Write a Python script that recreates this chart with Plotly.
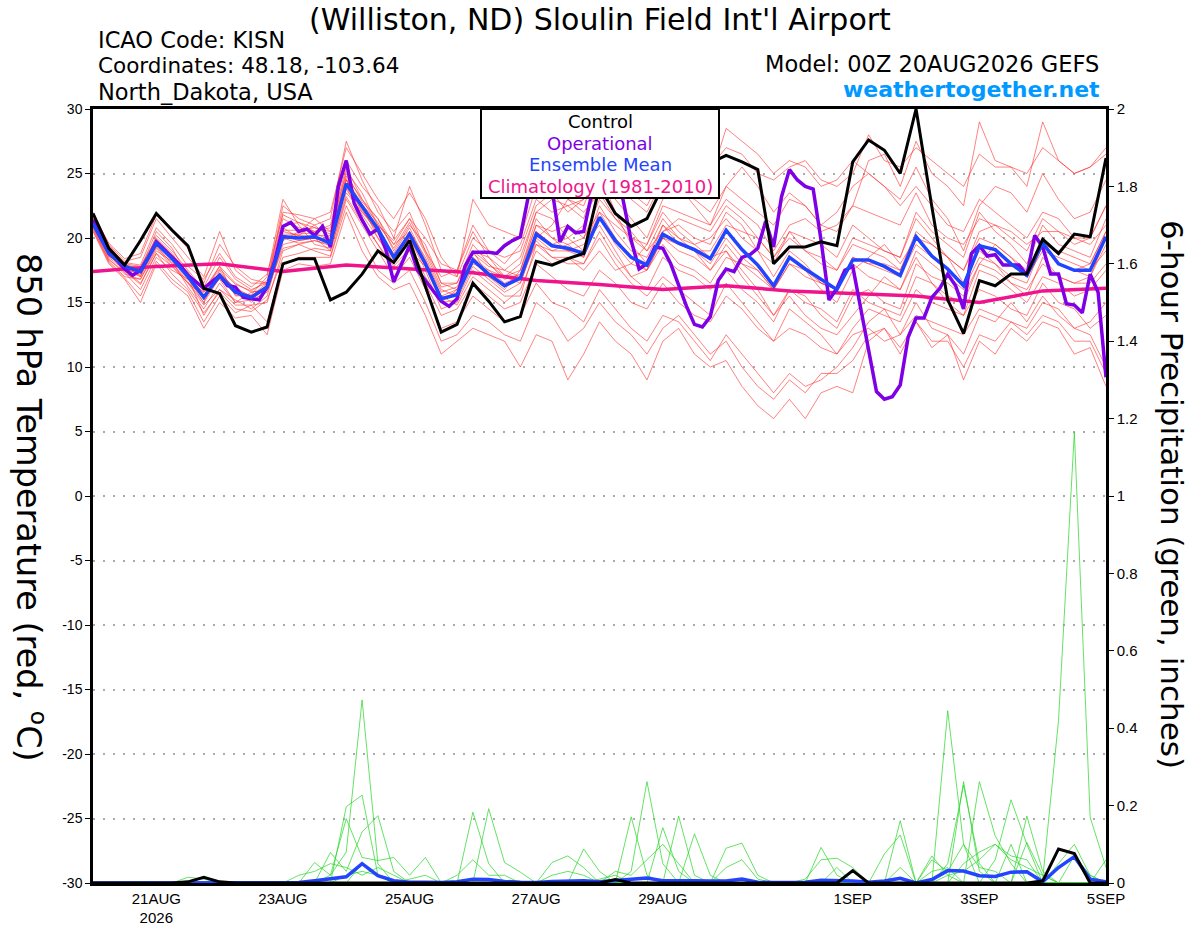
import pandas as pd
import plotly.graph_objects as go

# ---------------- data ----------------
start_time = "2026-08-20 00:00"

temp_ticks = [-30, -25, -20, -15, -10, -5, 0, 5, 10, 15, 20, 25, 30]
temp_tick_labels = ["-30", "-25", "-20", "-15", "-10", "-5", "0", "5", "10", "15", "20", "25", "30"]
precip_ticks = [0, 0.2, 0.4, 0.6, 0.8, 1.0, 1.2, 1.4, 1.6, 1.8, 2.0]
precip_tick_labels = ["0", "0.2", "0.4", "0.6", "0.8", "1", "1.2", "1.4", "1.6", "1.8", "2"]
date_ticks = ["2026-08-21", "2026-08-23", "2026-08-25", "2026-08-27",
              "2026-08-29", "2026-09-01", "2026-09-03", "2026-09-05"]
date_tick_labels = ["21AUG<br>2026", "23AUG", "25AUG", "27AUG", "29AUG", "1SEP", "3SEP", "5SEP"]

# 6-hourly control (black)
control_t = [21.9, 19.2, 17.9, 19.8, 21.9, 20.6, 19.4, 16.1, 15.7, 13.2, 12.7, 13.1, 18.0, 18.4, 18.4, 15.2,
             15.8, 17.2, 19.0, 18.1, 19.8, 16.3, 12.7, 13.3, 16.5, 15.1, 13.5, 13.9, 18.2, 17.9, 18.4, 18.8,
             24.0, 21.9, 20.9, 21.5, 24.0, 25.0, 25.5, 25.8, 26.4, 25.9, 25.3, 18.0, 19.3, 19.3, 19.7, 19.4,
             25.9, 27.6, 26.8, 25.0, 30.0, 22.4, 15.2, 12.6, 16.7, 16.3, 17.2, 17.2, 19.9, 18.8, 20.3, 20.1, 26.2]

# 6-hourly ensemble mean (blue)
mean_t = [21.1, 18.8, 17.8, 17.4, 19.6, 18.4, 17.0, 15.4, 17.1, 15.8, 15.4, 16.2, 20.1, 20.0, 20.1, 19.6,
          24.2, 22.4, 20.7, 18.5, 20.3, 18.0, 15.3, 15.6, 18.3, 17.2, 16.3, 16.9, 20.3, 19.4, 19.2, 18.8,
          21.6, 19.8, 18.5, 17.9, 20.3, 19.6, 19.1, 18.4, 20.6, 19.1, 17.9, 16.3, 18.5, 17.6, 16.8, 16.0,
          18.3, 18.3, 17.8, 17.1, 20.1, 18.6, 17.6, 16.3, 19.4, 19.1, 18.0, 17.1, 19.6, 18.0, 17.5, 17.5, 20.1]

# 3-hourly operational (purple)
oper_t = [21.4, 20.1, 18.9, 18.3, 17.6, 17.1, 17.5, 18.5, 19.7, 19.1, 18.5, 17.9, 17.1, 16.6, 16.1, 16.6,
          17.1, 16.3, 16.2, 15.4, 15.3, 15.2, 16.2, 18.3, 20.9, 21.2, 20.5, 20.7, 20.2, 20.9, 19.3, 24.0, 26.0,
          22.7, 21.4, 20.3, 20.7, 19.1, 16.6, 18.0, 19.4, 17.5, 16.7, 15.8, 15.1, 14.7, 15.3, 17.8, 18.9,
          18.9, 18.9, 18.8, 19.4, 19.8, 20.1, 23.2, 25.5, 25.0, 23.8, 19.7, 20.9, 20.4, 20.5, 23.4, 25.5,
          26.0, 25.0, 22.9, 19.8, 17.6, 18.0, 19.3, 19.2, 18.0, 16.3, 14.7, 13.3, 13.1, 13.9, 16.7, 17.6,
          17.4, 18.5, 18.7, 19.2, 21.3, 19.3, 23.2, 25.3, 24.5, 24.0, 23.8, 19.8, 15.2, 16.1, 17.5, 17.8,
          14.6, 11.3, 8.1, 7.5, 7.7, 8.6, 12.3, 13.8, 13.8, 15.4, 16.1, 17.2, 16.3, 14.5, 18.8, 19.4,
          18.6, 18.7, 17.9, 17.9, 17.9, 17.1, 20.2, 19.3, 17.2, 17.2, 14.9, 14.8, 14.2, 17.2, 15.8, 9.2]

# daily climatology (pink)
clim_t = [17.4, 17.8, 18.0, 17.4, 17.9, 17.6, 17.3, 16.7, 16.4, 16.0, 16.3, 15.9, 15.7, 15.5, 15.0, 15.9, 16.1]

# ensemble members, 6-hourly (red)
m01 = [21.5, 19.2, 18.0, 17.0, 20.2, 19.0, 17.5, 16.0, 17.8, 16.5, 15.8, 16.0, 21.0, 21.2, 20.5, 20.8,
       25.5, 23.0, 21.5, 19.0, 21.0, 19.5, 16.5, 16.0, 19.0, 18.5, 17.0, 18.0, 22.0, 21.5, 20.0, 21.0,
       24.5, 23.0, 21.5, 20.0, 23.0, 24.0, 22.5, 21.0, 24.0, 25.5, 24.0, 22.0, 23.5, 22.5, 21.0, 22.0,
       24.0, 25.0, 24.0, 23.0, 25.5, 23.0, 21.5, 19.0, 22.5, 24.0, 23.5, 22.0, 25.0, 23.0, 21.5, 22.0, 24.5]
m02 = [21.0, 18.5, 17.5, 16.5, 18.8, 17.8, 16.5, 14.8, 16.0, 14.8, 14.8, 15.0, 19.0, 19.5, 19.0, 18.6,
       23.0, 21.0, 19.0, 17.0, 18.5, 16.0, 13.0, 13.5, 15.5, 14.5, 13.5, 14.0, 16.5, 15.0, 14.5, 13.5,
       16.0, 14.5, 13.0, 12.0, 14.0, 13.5, 12.0, 10.5, 12.5, 11.0, 9.5, 8.0, 9.5, 8.5, 9.0, 10.0,
       11.5, 13.5, 14.5, 12.5, 15.0, 13.0, 12.5, 11.0, 14.0, 13.5, 15.0, 13.5, 15.5, 14.0, 13.0, 12.5, 10.0]
m03 = [22.0, 19.5, 18.2, 18.5, 21.5, 20.0, 18.5, 17.0, 20.5, 17.5, 16.5, 16.5, 22.5, 21.5, 21.0, 21.5,
       27.5, 24.5, 22.0, 20.5, 22.0, 19.0, 17.0, 17.5, 21.0, 19.0, 18.0, 19.5, 23.0, 22.0, 22.5, 21.5,
       25.0, 22.0, 19.5, 18.0, 21.0, 20.0, 19.0, 17.5, 19.0, 17.0, 15.5, 14.0, 16.0, 15.5, 14.0, 13.0,
       15.5, 16.0, 15.0, 14.5, 18.0, 17.0, 16.5, 15.5, 18.0, 19.5, 18.5, 17.0, 19.0, 18.5, 18.0, 17.5, 19.0]
m04 = [20.8, 18.2, 17.0, 16.8, 19.0, 18.2, 16.2, 14.5, 16.5, 15.0, 15.2, 15.8, 19.5, 19.8, 20.0, 19.0,
       23.5, 22.0, 20.5, 18.0, 20.0, 17.5, 14.5, 15.0, 17.5, 16.5, 15.5, 15.5, 19.5, 19.0, 19.5, 18.5,
       21.5, 20.0, 18.5, 18.0, 20.5, 21.0, 20.0, 19.5, 22.0, 21.0, 19.0, 18.0, 20.5, 20.0, 19.5, 18.5,
       21.0, 20.0, 19.0, 18.5, 21.5, 20.0, 18.5, 17.5, 20.5, 21.0, 20.0, 19.0, 21.5, 20.5, 19.5, 20.0, 22.5]
m05 = [21.3, 19.0, 17.3, 16.0, 18.5, 17.5, 16.8, 15.8, 17.2, 16.0, 15.5, 16.5, 20.5, 20.2, 21.0, 20.0,
       24.5, 22.5, 20.0, 18.5, 19.5, 17.0, 15.0, 16.0, 18.0, 17.5, 17.0, 16.5, 20.0, 21.0, 23.0, 22.0,
       23.5, 21.5, 20.0, 19.0, 21.5, 20.0, 19.5, 18.5, 19.0, 17.5, 16.0, 14.0, 15.5, 14.0, 13.0, 12.5,
       14.0, 15.5, 17.0, 16.0, 18.5, 16.5, 15.0, 14.0, 16.0, 15.5, 14.5, 14.0, 16.5, 15.0, 14.5, 13.0, 14.0]
m06 = [21.6, 19.4, 18.0, 17.8, 20.0, 18.8, 17.2, 16.2, 18.5, 16.8, 16.0, 16.5, 21.5, 20.8, 20.5, 21.0,
       26.0, 24.0, 22.5, 20.0, 24.0, 21.0, 17.5, 17.0, 20.0, 19.0, 18.5, 19.0, 22.5, 23.5, 22.0, 23.0,
       26.5, 25.0, 24.5, 23.0, 25.0, 26.0, 25.0, 24.5, 28.5, 27.5, 26.5, 25.0, 26.0, 25.5, 24.0, 24.5,
       26.0, 25.0, 24.0, 22.5, 24.0, 22.5, 21.0, 20.5, 23.0, 22.0, 21.0, 20.0, 22.0, 21.5, 20.0, 19.5, 21.0]
m07 = [20.5, 18.0, 16.8, 15.0, 18.0, 16.5, 15.5, 13.0, 15.0, 13.8, 14.0, 12.5, 17.5, 18.0, 17.8, 18.0,
       22.0, 19.0, 17.0, 16.0, 16.5, 14.0, 11.0, 12.0, 13.0, 12.5, 12.0, 10.0, 12.5, 12.0, 9.0, 11.0,
       13.5, 12.0, 11.0, 9.0, 12.0, 13.0, 11.0, 10.0, 10.5, 8.5, 7.0, 6.0, 7.5, 6.0, 8.0, 8.5,
       8.0, 12.0, 13.0, 11.0, 13.5, 11.5, 12.5, 9.0, 12.0, 11.0, 13.0, 12.0, 13.5, 13.0, 11.0, 11.5, 8.5]
m08 = [21.2, 18.7, 17.8, 17.5, 19.8, 18.5, 17.4, 15.2, 17.0, 16.2, 15.0, 16.0, 20.8, 20.0, 20.2, 20.2,
       24.8, 23.0, 21.0, 19.5, 20.5, 18.5, 16.0, 15.5, 19.0, 17.0, 16.0, 17.5, 21.5, 20.0, 19.0, 19.5,
       21.0, 19.0, 17.0, 17.5, 19.5, 18.0, 17.5, 16.5, 18.5, 18.0, 17.0, 16.0, 18.0, 17.5, 16.0, 15.0,
       17.5, 18.5, 19.5, 18.0, 20.0, 19.5, 18.5, 16.5, 19.0, 18.0, 16.5, 15.5, 18.5, 17.0, 16.5, 17.0, 20.0]
m09 = [21.0, 18.8, 17.6, 17.2, 19.4, 18.0, 16.8, 15.8, 17.8, 15.5, 15.6, 17.0, 23.0, 21.0, 19.5, 19.2,
       24.0, 21.5, 19.5, 17.5, 19.0, 17.8, 15.5, 14.8, 17.0, 16.0, 15.0, 16.0, 19.0, 18.0, 18.5, 17.5,
       19.0, 17.5, 18.0, 19.5, 22.0, 20.5, 19.5, 20.0, 21.5, 20.0, 19.0, 17.0, 19.0, 18.0, 16.5, 16.0,
       18.0, 17.0, 16.5, 16.0, 19.0, 18.0, 17.0, 16.0, 18.5, 18.0, 17.0, 16.5, 19.5, 18.0, 17.5, 18.0, 20.5]
m10 = [21.4, 19.1, 17.9, 17.6, 20.5, 19.2, 17.0, 14.0, 16.0, 15.2, 14.5, 15.5, 19.8, 20.5, 21.5, 20.5,
       25.0, 22.8, 21.5, 19.5, 21.5, 20.0, 18.0, 17.5, 20.5, 18.5, 17.5, 17.0, 20.5, 19.5, 19.0, 19.0,
       22.5, 20.5, 19.0, 18.5, 21.0, 19.5, 19.0, 19.0, 21.0, 20.5, 20.0, 18.5, 20.5, 19.0, 18.0, 17.5,
       20.0, 19.5, 19.0, 18.5, 22.0, 20.5, 19.5, 18.5, 22.0, 20.5, 19.5, 18.0, 21.0, 19.5, 19.0, 18.5, 21.5]
m11 = [20.9, 18.4, 17.2, 16.8, 19.2, 17.8, 16.5, 15.5, 16.8, 15.0, 15.8, 16.0, 19.2, 19.5, 19.8, 19.5,
       23.8, 21.8, 20.0, 18.0, 20.5, 18.0, 15.5, 16.0, 18.5, 17.5, 16.5, 17.0, 19.5, 18.5, 18.0, 18.0,
       20.0, 18.0, 16.5, 15.5, 17.0, 16.0, 15.0, 14.0, 16.5, 15.0, 13.5, 12.0, 14.5, 13.5, 12.5, 11.0,
       13.0, 14.5, 14.0, 13.5, 16.0, 15.0, 14.5, 14.0, 17.5, 17.0, 16.0, 15.0, 17.0, 16.5, 15.5, 16.0, 17.5]
m12 = [21.5, 19.3, 18.1, 17.9, 20.8, 19.5, 17.8, 16.8, 18.8, 17.0, 16.2, 17.2, 21.8, 21.2, 20.8, 20.5,
       25.2, 23.5, 21.0, 19.8, 21.5, 19.0, 16.5, 16.5, 19.0, 18.0, 17.0, 17.5, 21.0, 20.0, 19.5, 20.0,
       22.0, 21.0, 20.0, 19.5, 22.5, 22.0, 21.5, 21.0, 23.0, 22.0, 21.0, 19.0, 21.0, 21.5, 20.5, 21.0,
       22.5, 26.0, 26.5, 24.0, 27.5, 25.0, 24.0, 22.5, 29.0, 26.0, 25.5, 24.0, 29.0, 26.0, 25.0, 25.5, 27.0]
m13 = [21.1, 18.6, 17.7, 17.3, 19.6, 18.6, 16.9, 15.0, 17.5, 15.8, 15.2, 16.4, 20.2, 19.8, 20.0, 19.6,
       24.2, 22.0, 20.8, 18.5, 20.0, 18.2, 15.2, 15.8, 18.2, 17.2, 16.2, 16.8, 20.5, 19.5, 20.0, 19.0,
       22.0, 20.0, 18.5, 17.5, 20.0, 19.0, 18.5, 17.5, 19.5, 18.0, 17.5, 16.0, 18.0, 17.0, 16.5, 16.0,
       18.5, 18.0, 18.0, 17.5, 20.0, 18.5, 17.5, 16.5, 19.5, 19.0, 18.0, 17.0, 19.5, 18.0, 17.5, 17.0, 19.5]
m14 = [21.8, 19.6, 18.4, 18.8, 21.8, 20.5, 19.2, 16.5, 19.5, 17.8, 16.8, 16.5, 22.0, 21.8, 21.5, 22.0,
       27.0, 25.0, 23.0, 21.5, 23.5, 21.5, 18.5, 17.0, 23.0, 21.0, 20.5, 20.0, 24.0, 24.0, 23.0, 22.5,
       25.5, 24.5, 23.0, 22.0, 24.5, 23.5, 23.0, 22.0, 24.0, 23.0, 22.0, 21.0, 23.0, 22.5, 21.0, 20.5,
       22.5, 22.0, 21.5, 21.0, 23.5, 21.0, 20.0, 19.5, 21.5, 21.0, 20.5, 19.5, 20.5, 20.5, 20.0, 20.0, 22.5]
m15 = [20.7, 18.3, 17.4, 16.4, 18.8, 17.2, 16.0, 14.2, 15.8, 14.5, 14.3, 15.2, 18.5, 18.8, 19.2, 19.0,
       23.2, 21.2, 19.5, 17.8, 19.2, 16.5, 14.0, 14.5, 16.5, 15.5, 14.5, 15.0, 18.0, 17.0, 16.0, 15.5,
       17.5, 16.5, 15.0, 14.5, 16.5, 15.0, 14.0, 13.5, 15.5, 14.5, 13.0, 12.0, 13.0, 12.5, 11.5, 11.0,
       12.5, 13.0, 12.0, 12.5, 14.0, 13.5, 13.0, 12.5, 14.5, 14.0, 13.5, 13.0, 15.0, 14.5, 13.0, 13.5, 15.0]
m16 = [21.3, 18.9, 17.7, 17.1, 19.5, 18.3, 17.1, 15.6, 17.3, 16.1, 15.5, 16.3, 20.3, 20.3, 20.4, 19.8,
       24.5, 22.5, 20.5, 18.8, 20.8, 18.3, 15.8, 16.2, 18.8, 17.8, 17.5, 18.5, 22.0, 23.0, 22.5, 23.0,
       27.0, 24.5, 23.5, 22.5, 25.0, 25.5, 24.5, 25.5, 27.0, 26.5, 25.0, 24.5, 25.5, 26.0, 24.5, 24.0,
       25.0, 28.0, 26.0, 25.5, 27.0, 26.0, 25.0, 24.0, 26.5, 25.5, 25.5, 25.0, 27.0, 26.0, 25.0, 25.5, 26.5]
m17 = [21.0, 18.7, 17.5, 17.0, 19.3, 18.0, 16.6, 15.0, 16.9, 15.6, 15.3, 16.1, 20.0, 19.6, 19.8, 19.4,
       24.0, 22.2, 20.3, 18.5, 20.0, 17.8, 15.0, 15.2, 17.8, 16.8, 15.8, 16.5, 19.8, 18.5, 18.5, 18.0,
       20.5, 18.5, 17.0, 16.0, 18.5, 17.5, 17.0, 16.0, 17.5, 16.0, 15.0, 13.5, 16.0, 15.0, 14.5, 13.5,
       16.0, 15.0, 14.5, 14.0, 17.0, 16.5, 15.5, 15.0, 18.0, 17.5, 16.5, 16.0, 18.0, 17.0, 16.5, 16.5, 18.0]
m18 = [21.2, 18.9, 17.9, 17.7, 19.9, 18.7, 17.3, 15.9, 17.6, 16.4, 15.9, 16.7, 20.6, 20.6, 20.8, 20.3,
       24.6, 22.6, 21.2, 19.2, 21.2, 18.8, 16.2, 16.5, 19.5, 18.0, 16.8, 17.2, 21.0, 20.5, 21.0, 20.0,
       23.0, 21.5, 20.5, 19.0, 20.5, 21.5, 21.0, 20.5, 22.5, 21.5, 20.0, 18.5, 20.0, 19.0, 18.5, 17.5,
       19.5, 19.0, 18.5, 17.5, 20.5, 19.5, 18.5, 17.5, 20.0, 19.5, 18.5, 17.5, 19.5, 19.0, 18.5, 18.0, 20.5]
m19 = [20.6, 18.1, 16.9, 15.5, 18.2, 16.8, 15.8, 13.5, 15.5, 14.2, 14.8, 13.5, 18.0, 18.5, 18.5, 18.5,
       22.5, 20.0, 17.5, 16.5, 17.5, 15.0, 12.0, 12.5, 14.0, 13.5, 12.5, 12.0, 15.0, 14.0, 12.0, 13.0,
       15.0, 13.5, 12.5, 11.0, 13.0, 14.0, 12.5, 11.0, 12.0, 10.0, 8.5, 7.5, 9.0, 8.0, 9.5, 9.5,
       10.5, 12.5, 13.0, 11.5, 13.5, 12.0, 12.0, 10.0, 12.5, 12.0, 13.5, 12.5, 14.0, 13.5, 12.0, 12.0, 9.5]
m20 = [21.2, 18.6, 17.7, 17.4, 19.7, 18.4, 17.0, 15.4, 17.1, 15.9, 15.4, 16.2, 20.0, 20.2, 20.1, 19.5,
       24.1, 22.3, 20.5, 18.5, 20.2, 18.0, 15.4, 15.6, 18.2, 17.0, 16.3, 16.8, 20.0, 19.0, 19.0, 18.5,
       21.5, 19.5, 18.0, 17.5, 20.0, 19.5, 19.0, 18.0, 20.0, 18.5, 17.5, 16.0, 18.5, 17.5, 16.5, 16.0,
       18.5, 18.0, 17.5, 17.0, 19.5, 18.5, 17.5, 16.5, 19.5, 19.0, 18.0, 17.0, 19.5, 18.0, 17.5, 17.5, 20.0]
members_t = [m01, m02, m03, m04, m05, m06, m07, m08, m09, m10,
             m11, m12, m13, m14, m15, m16, m17, m18, m19, m20]

# 6-hour precipitation (inches)
control_p = [0, 0, 0, 0, 0, 0, 0.003, 0.015, 0.003, 0, 0, 0, 0, 0, 0, 0,
             0, 0, 0, 0, 0, 0, 0, 0, 0, 0, 0, 0, 0, 0, 0, 0,
             0, 0.009, 0, 0, 0, 0, 0, 0, 0, 0, 0, 0, 0, 0, 0, 0,
             0.032, 0, 0, 0, 0, 0, 0, 0, 0, 0, 0, 0, 0.005, 0.088, 0.076, 0, 0]
mean_p = [0, 0, 0, 0, 0, 0, 0.001, 0.002, 0.001, 0, 0, 0, 0, 0.001, 0.006, 0.01,
          0.016, 0.05, 0.019, 0.006, 0.002, 0.002, 0.001, 0.003, 0.01, 0.009, 0.004, 0.002, 0.001, 0.004, 0.006, 0.006,
          0.003, 0.006, 0.01, 0.013, 0.006, 0.007, 0.006, 0.005, 0.005, 0.01, 0.002, 0.001, 0.001, 0.002, 0.007, 0.007,
          0.005, 0.002, 0.005, 0.012, 0, 0.009, 0.032, 0.031, 0.019, 0.017, 0.028, 0.029, 0.003, 0.04, 0.068, 0.01, 0.003]
g01 = [0, 0, 0, 0, 0, 0, 0, 0, 0, 0, 0, 0, 0, 0, 0, 0.02,
       0.08, 0.473, 0.05, 0, 0, 0, 0, 0, 0, 0, 0, 0, 0, 0, 0, 0,
       0, 0, 0.03, 0.262, 0.05, 0, 0, 0, 0, 0, 0, 0, 0, 0, 0, 0,
       0, 0, 0, 0, 0, 0, 0.445, 0.1, 0, 0, 0, 0, 0.01, 0.42, 1.165, 0.17, 0.04]
g02 = [0, 0, 0, 0, 0, 0, 0, 0, 0, 0, 0, 0, 0, 0, 0, 0,
       0.197, 0.227, 0.02, 0, 0, 0, 0, 0, 0.183, 0.05, 0, 0, 0, 0, 0, 0,
       0, 0, 0, 0, 0, 0, 0, 0, 0, 0, 0, 0, 0, 0, 0, 0,
       0, 0, 0, 0, 0, 0, 0, 0.262, 0.03, 0, 0.1, 0, 0, 0, 0, 0, 0]
g03 = [0, 0, 0, 0, 0, 0, 0, 0, 0, 0, 0, 0, 0, 0, 0, 0.079,
       0.03, 0.132, 0.174, 0.03, 0, 0, 0, 0, 0, 0, 0, 0, 0, 0.053, 0.07, 0.04,
       0, 0, 0, 0, 0, 0, 0, 0, 0, 0, 0, 0, 0, 0, 0, 0,
       0, 0, 0, 0.161, 0, 0, 0, 0, 0, 0.06, 0.215, 0.1, 0, 0, 0, 0, 0]
g04 = [0, 0, 0, 0, 0, 0, 0, 0, 0, 0, 0, 0, 0, 0, 0.053, 0.02,
       0.166, 0.066, 0.058, 0.066, 0.02, 0.066, 0, 0, 0, 0, 0, 0, 0, 0, 0, 0,
       0, 0, 0, 0, 0, 0.173, 0.02, 0, 0, 0, 0, 0, 0, 0, 0, 0,
       0, 0, 0, 0, 0, 0, 0.05, 0.253, 0.05, 0, 0, 0.173, 0.03, 0, 0, 0, 0]
g05 = [0, 0, 0, 0, 0, 0, 0, 0, 0, 0, 0, 0, 0, 0.02, 0.03, 0.05,
       0.04, 0.02, 0.04, 0.02, 0, 0, 0, 0, 0, 0.192, 0.053, 0.028, 0, 0, 0, 0,
       0, 0, 0, 0, 0.143, 0.03, 0, 0, 0, 0, 0, 0, 0, 0, 0, 0,
       0, 0, 0, 0, 0, 0, 0, 0, 0.262, 0.122, 0.05, 0, 0, 0, 0, 0, 0]
g06 = [0, 0, 0, 0, 0, 0, 0.015, 0.01, 0, 0, 0, 0, 0, 0, 0, 0,
       0, 0.05, 0.02, 0, 0, 0, 0, 0.02, 0.06, 0.02, 0.02, 0, 0, 0, 0, 0.088,
       0.03, 0, 0.171, 0.02, 0, 0, 0, 0, 0, 0, 0, 0, 0, 0, 0.092, 0.02,
       0, 0, 0, 0, 0, 0.07, 0.02, 0, 0, 0, 0, 0, 0, 0, 0.07, 0.02, 0]
g07 = [0, 0, 0, 0, 0, 0, 0, 0, 0, 0, 0, 0, 0, 0, 0, 0,
       0, 0, 0, 0, 0, 0, 0, 0, 0, 0, 0, 0, 0, 0, 0, 0,
       0, 0.03, 0.02, 0.06, 0.1, 0.05, 0, 0, 0.09, 0.103, 0.02, 0, 0, 0, 0, 0,
       0, 0, 0.075, 0.124, 0, 0, 0, 0, 0, 0, 0, 0.105, 0.02, 0, 0, 0, 0.06]
g08 = [0, 0, 0, 0, 0, 0, 0, 0, 0, 0, 0, 0, 0, 0, 0, 0,
       0, 0, 0, 0, 0, 0, 0, 0, 0, 0, 0, 0, 0, 0.02, 0.03, 0.02,
       0, 0, 0, 0, 0, 0, 0.127, 0.02, 0, 0, 0, 0, 0, 0.01, 0.06, 0.064,
       0.04, 0, 0, 0, 0, 0.06, 0.03, 0.1, 0.04, 0.03, 0, 0, 0, 0, 0, 0, 0]
g09 = [0, 0, 0, 0, 0, 0, 0, 0, 0, 0, 0, 0, 0, 0, 0, 0,
       0.02, 0.03, 0.02, 0, 0, 0, 0, 0, 0, 0, 0, 0, 0, 0, 0, 0,
       0, 0, 0, 0, 0, 0, 0, 0, 0.04, 0.06, 0.01, 0, 0, 0, 0, 0.04,
       0, 0, 0, 0, 0, 0, 0, 0.05, 0.08, 0.1, 0.07, 0.06, 0, 0, 0, 0, 0]
g10 = [0, 0, 0, 0, 0, 0, 0, 0, 0, 0, 0, 0, 0, 0, 0, 0,
       0, 0, 0, 0, 0.01, 0.02, 0, 0, 0, 0, 0, 0, 0, 0, 0, 0,
       0.01, 0.02, 0, 0, 0, 0, 0, 0, 0, 0, 0, 0, 0, 0, 0, 0,
       0, 0, 0, 0.04, 0, 0, 0.02, 0.03, 0.06, 0.1, 0.06, 0.04, 0.02, 0, 0, 0, 0]
g11 = [0, 0, 0, 0, 0, 0, 0, 0, 0, 0, 0, 0, 0, 0, 0, 0,
       0, 0, 0, 0, 0, 0, 0, 0, 0, 0, 0, 0, 0, 0, 0, 0,
       0, 0, 0, 0, 0, 0, 0, 0, 0, 0, 0, 0, 0, 0, 0, 0,
       0, 0, 0, 0, 0, 0.03, 0.04, 0, 0, 0, 0, 0, 0, 0.05, 0.1, 0.02, 0]
members_p = [g01, g02, g03, g04, g05, g06, g07, g08, g09, g10, g11]

for s in members_t + members_p + [control_t, mean_t, control_p, mean_p]:
    assert len(s) == 65, len(s)
assert len(oper_t) == 129, len(oper_t)
assert len(clim_t) == 17, len(clim_t)

# ---------------- figure ----------------
t6 = pd.date_range(start_time, periods=len(control_t), freq="6h")
t3 = pd.date_range(start_time, periods=len(oper_t), freq="3h")
t24 = pd.date_range(start_time, periods=len(clim_t), freq="24h")

TICKFONT = "Liberation Sans, Arial, Helvetica, sans-serif"
WIDEFONT = "DejaVu Sans, Verdana, sans-serif"
RED = "rgba(255,45,45,0.75)"
GREEN = "rgba(40,215,40,0.9)"
PURPLE = "#8000e6"
BLUE = "#2244ff"
PINK = "#f0148c"

fig = go.Figure()
for m in members_t:
    fig.add_trace(go.Scatter(x=t6, y=m, mode="lines", line=dict(color=RED, width=0.8),
                             hoverinfo="skip", showlegend=False))
for g in members_p:
    fig.add_trace(go.Scatter(x=t6, y=g, mode="lines", yaxis="y2", line=dict(color=GREEN, width=0.8),
                             hoverinfo="skip", showlegend=False))
fig.add_trace(go.Scatter(x=t6, y=mean_p, mode="lines", yaxis="y2", line=dict(color=BLUE, width=3.5),
                         showlegend=False))
fig.add_trace(go.Scatter(x=t6, y=control_p, mode="lines", yaxis="y2", line=dict(color="black", width=3),
                         showlegend=False))
fig.add_trace(go.Scatter(x=t24, y=clim_t, mode="lines", line=dict(color=PINK, width=3.5), showlegend=False))
fig.add_trace(go.Scatter(x=t3, y=oper_t, mode="lines", line=dict(color=PURPLE, width=3.5), showlegend=False))
fig.add_trace(go.Scatter(x=t6, y=mean_t, mode="lines", line=dict(color=BLUE, width=3.5), showlegend=False))
fig.add_trace(go.Scatter(x=t6, y=control_t, mode="lines", line=dict(color="black", width=3), showlegend=False))

L, R, T, B = 93, 94, 109, 44
W, H = 1200, 927
PW, PH = W - L - R, H - T - B


def px(x):
    return (x - L) / PW


def py(y):
    return (H - B - y) / PH


annotations = [
    dict(text="(Williston, ND) Sloulin Field Int'l Airport", x=px(600), y=py(20), font=dict(size=30)),
    dict(text="ICAO Code: KISN", x=px(96), y=py(40), xanchor="left", font=dict(size=22.5)),
    dict(text="Coordinates: 48.18, -103.64", x=px(96), y=py(66), xanchor="left", font=dict(size=21.5)),
    dict(text="North_Dakota, USA", x=px(96), y=py(92), xanchor="left", font=dict(size=22.5)),
    dict(text="Model: 00Z 20AUG2026 GEFS", x=px(1101), y=py(64), xanchor="right", font=dict(size=22.5)),
    dict(text="<b>weathertogether.net</b>", x=px(1102), y=py(89), xanchor="right",
         font=dict(size=22, color="#0099ff")),
    dict(text="850 hPa Temperature (red, <sup>o</sup>C)", x=px(31), y=py(507), textangle=90,
         font=dict(size=33.5)),
    dict(text="6-hour Precipitation (green, inches)", x=px(1172), y=py(494), textangle=90,
         font=dict(size=31)),
    dict(text="Control", x=px(600), y=py(122), font=dict(size=18, color="black")),
    dict(text="Operational", x=px(600), y=py(143), font=dict(size=18, color=PURPLE)),
    dict(text="Ensemble Mean", x=px(600), y=py(164), font=dict(size=18, color=BLUE)),
    dict(text="Climatology (1981-2010)", x=px(600), y=py(186), font=dict(size=18, color=PINK)),
]
for a in annotations:
    a.setdefault("xanchor", "center")
    a.update(xref="paper", yref="paper", yanchor="middle", showarrow=False)
    a["font"].setdefault("color", "black")
    a["font"]["family"] = WIDEFONT

fig.update_layout(
    width=W, height=H,
    margin=dict(l=L, r=R, t=T, b=B, autoexpand=False),
    paper_bgcolor="white", plot_bgcolor="white",
    font=dict(family=TICKFONT, color="black"),
    showlegend=False,
    annotations=annotations,
    shapes=[dict(type="rect", xref="paper", yref="paper", x0=px(481), x1=px(719), y0=py(198), y1=1.0,
                 line=dict(color="black", width=2), fillcolor="white", layer="above")],
    xaxis=dict(type="date", range=[t6[0], t6[-1]], tickvals=date_ticks, ticktext=date_tick_labels,
               showgrid=False, zeroline=False, showline=True, linecolor="black", linewidth=2.5,
               mirror=True, ticks="", tickfont=dict(size=15), automargin=False),
    yaxis=dict(range=[-30, 30], tickvals=temp_ticks, ticktext=temp_tick_labels,
               showgrid=True, gridcolor="#aaaaaa", griddash="2px,8px", gridwidth=1.5,
               zeroline=False, showline=True, linecolor="black", linewidth=2.5, automargin=False,
               ticks="outside", ticklen=5, tickcolor="black", tickfont=dict(size=14)),
    yaxis2=dict(range=[0, 2], tickvals=precip_ticks, ticktext=precip_tick_labels, overlaying="y",
                side="right", showgrid=False, zeroline=False, showline=True, linecolor="black",
                linewidth=2.5, ticks="outside", ticklen=5, tickcolor="black", tickfont=dict(size=15),
                automargin=False),
)

fig.write_html("out.html", config={"displayModeBar": False},
               post_script="document.body.style.margin='0';document.body.style.overflow='hidden';")
